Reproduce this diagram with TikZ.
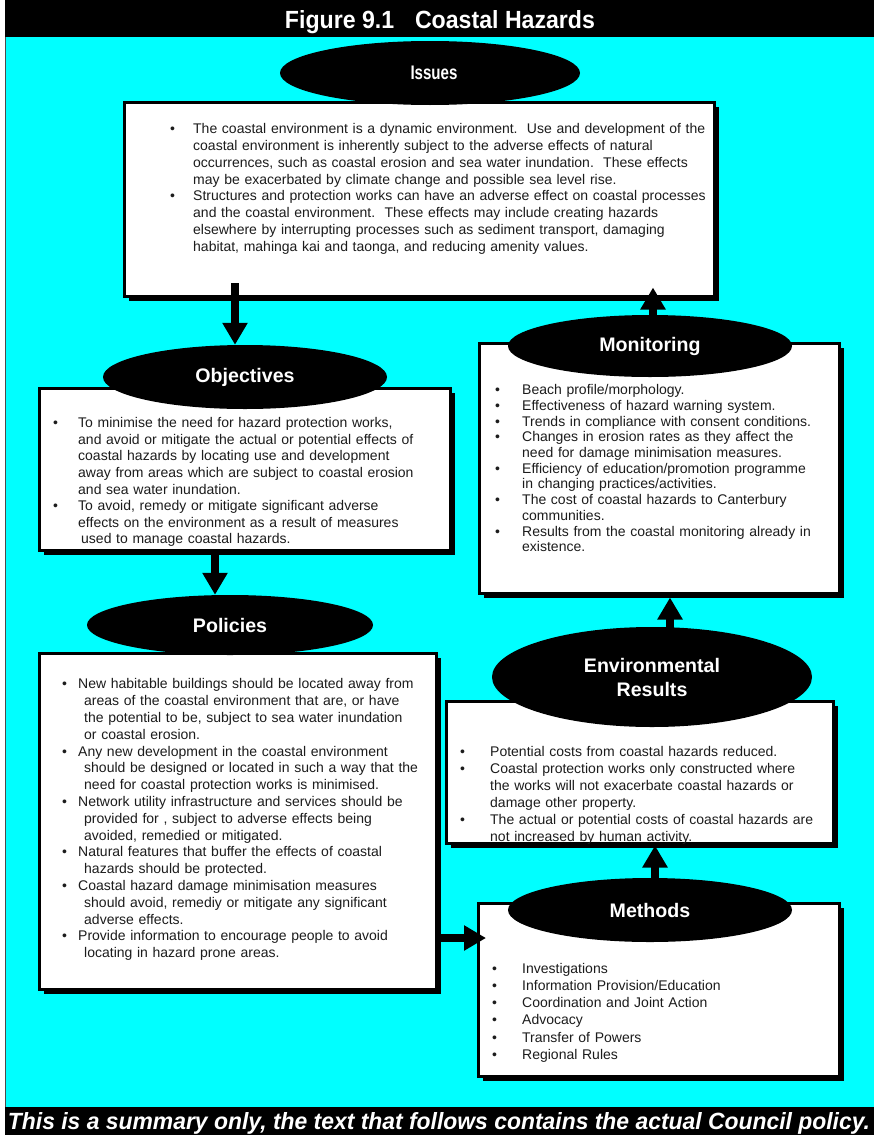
\documentclass[tikz,border=0pt]{standalone}
\usepackage{fontspec}
\setmainfont{Liberation Sans}
\usepackage{graphicx}
\usetikzlibrary{shapes.geometric,arrows.meta,shadows,calc}
\definecolor{bgcyan}{RGB}{0,255,255}
\definecolor{txtgray}{RGB}{28,28,28}
\newcommand\bl[3]{\par\hangindent=#2\hangafter=1\noindent\makebox[#1][l]{\textbullet}#3\par}
\begin{document}
\begin{tikzpicture}[x=1pt,y=-1pt,
  box/.style={draw=black,line width=2.5pt,fill=white,anchor=north west,inner sep=0pt,
    drop shadow={shadow xshift=5pt,shadow yshift=-5pt,fill=black,opacity=1}},
  hell/.style={ellipse,fill=black,text=white,inner sep=0pt,align=center,
    font=\fontsize{19.6}{24}\selectfont\bfseries},
  txt/.style={anchor=base west,inner sep=0pt,text=txtgray,align=left},
  barrow/.style={line width=8pt,-{Triangle[width=24pt,length=22pt]}},
]
\useasboundingbox (0,0) rectangle (874,1135);
% background
\fill[white] (0,0) rectangle (874,1135);
\fill[bgcyan] (5,37) rectangle (874,1107);
\draw[black!70,line width=1pt] (5.5,37) -- (5.5,1107);
\fill[black] (5,0) rectangle (874,37);
\fill[black] (5,1107) rectangle (874,1135);
\node[anchor=base,text=white,inner sep=0pt] (title) at (440,28)
  {\resizebox{310pt}{18pt}{\bfseries Figure 9.1\hspace{0.9em}Coastal Hazards}};
\node[anchor=base,text=white,inner sep=0pt] (footer) at (439,1129)
  {\resizebox{862pt}{17pt}{\bfseries\itshape This is a summary only, the text that follows contains the actual Council policy.}};

% boxes
\node[box,minimum width=590pt,minimum height=194pt] (issuesbox) at (123,101) {};
\node[box,minimum width=411pt,minimum height=162pt] (objbox) at (38,387) {};
\node[box,minimum width=397pt,minimum height=336pt] (polbox) at (38,652) {};
\node[box,minimum width=360pt,minimum height=250pt] (monbox) at (478,342) {};
\node[box,minimum width=387pt,minimum height=142pt] (envbox) at (445,700) {};
\node[box,minimum width=361pt,minimum height=173pt] (methbox) at (477,902) {};

% texts
\node[txt,text width=600pt,font=\fontsize{14}{16.75}\selectfont] (issuestxt) at (170,117) {%
\bl{23pt}{23pt}{The coastal environment is a dynamic environment.\ \ Use and development of the\newline
coastal environment is inherently subject to the adverse effects of natural\newline
occurrences, such as coastal erosion and sea water inundation.\ \ These effects\newline
may be exacerbated by climate change and possible sea level rise.}
\bl{23pt}{23pt}{Structures and protection works can have an adverse effect on coastal processes\newline
and the coastal environment.\ \ These effects may include creating hazards\newline
elsewhere by interrupting processes such as sediment transport, damaging\newline
habitat, mahinga kai and taonga, and reducing amenity values.}};

\node[txt,text width=440pt,font=\fontsize{14}{16.6}\selectfont] (objtxt) at (53,411) {%
\bl{25pt}{25pt}{To minimise the need for hazard protection works,\newline
and avoid or mitigate the actual or potential effects of\newline
coastal hazards by locating use and development\newline
away from areas which are subject to coastal erosion\newline
and sea water inundation.}
\bl{25pt}{25pt}{To avoid, remedy or mitigate significant adverse\newline
effects on the environment as a result of measures\newline
\hspace*{3pt}used to manage coastal hazards.}};

\node[txt,text width=440pt,font=\fontsize{14}{16.8}\selectfont] (poltxt) at (62,672) {%
\bl{16pt}{22pt}{New habitable buildings should be located away from\newline
areas of the coastal environment that are, or have\newline
the potential to be, subject to sea water inundation\newline
or coastal erosion.}
\bl{16pt}{22pt}{Any new development in the coastal environment\newline
should be designed or located in such a way that the\newline
need for coastal protection works is minimised.}
\bl{16pt}{22pt}{Network utility infrastructure and services should be\newline
provided for , subject to adverse effects being\newline
avoided, remedied or mitigated.}
\bl{16pt}{22pt}{Natural features that buffer the effects of coastal\newline
hazards should be protected.}
\bl{16pt}{22pt}{Coastal hazard damage minimisation measures\newline
should avoid, remediy or mitigate any significant\newline
adverse effects.}
\bl{16pt}{22pt}{Provide information to encourage people to avoid\newline
locating in hazard prone areas.}};

\node[txt,text width=380pt,font=\fontsize{14}{15.7}\selectfont] (montxt) at (495,379) {%
\bl{27pt}{27pt}{Beach profile/morphology.}
\bl{27pt}{27pt}{Effectiveness of hazard warning system.}
\bl{27pt}{27pt}{Trends in compliance with consent conditions.}
\bl{27pt}{27pt}{Changes in erosion rates as they affect the\newline
need for damage minimisation measures.}
\bl{27pt}{27pt}{Efficiency of education/promotion programme\newline
in changing practices/activities.}
\bl{27pt}{27pt}{The cost of coastal hazards to Canterbury\newline
communities.}
\bl{27pt}{27pt}{Results from the coastal monitoring already in\newline
existence.}};

\node[txt,text width=420pt,font=\fontsize{14}{17}\selectfont] (envtxt) at (460,739) {%
\bl{30pt}{30pt}{Potential costs from coastal hazards reduced.}
\bl{30pt}{30pt}{Coastal protection works only constructed where\newline
the works will not exacerbate coastal hazards or\newline
damage other property.}
\bl{30pt}{30pt}{The actual or potential costs of coastal hazards are\newline
not increased by human activity.}};

\node[txt,text width=380pt,font=\fontsize{14}{17.2}\selectfont] (methtxt) at (492,956) {%
\bl{30pt}{30pt}{Investigations}
\bl{30pt}{30pt}{Information Provision/Education}
\bl{30pt}{30pt}{Coordination and Joint Action}
\bl{30pt}{30pt}{Advocacy}
\bl{30pt}{30pt}{Transfer of Powers}
\bl{30pt}{30pt}{Regional Rules}};

% arrow start points
\coordinate (a1) at (235,283);
\coordinate (a2) at (215,549);
\coordinate (a3) at (440,938);
\coordinate (a4) at (655,885);
\coordinate (a5) at (670,632);
\coordinate (a6) at (653,320);

% ellipses (headings)
\node[hell,minimum width=300pt,minimum height=64pt] (issues) at (430,73) {};
\node[anchor=base,text=white,inner sep=0pt] (issueslbl) at (434,79)
  {\resizebox{47pt}{13.5pt}{\bfseries Issues}};
\node[hell,minimum width=284pt,minimum height=64pt] (objectives) at (245,377) {Objectives};
\node[hell,minimum width=286pt,minimum height=60pt] (policies) at (230,625) {Policies};
\node[hell,minimum width=284pt,minimum height=62pt] (monitoring) at (650,346) {Monitoring};
\node[hell,minimum width=320pt,minimum height=100pt] (envres) at (652,677) {Environmental\\Results};
\node[hell,minimum width=284pt,minimum height=64pt] (methods) at (650,910) {Methods};

% connectors
\draw[barrow] (a1) -- (a1 |- objectives.north);
\draw[barrow] (a2) -- (a2 |- policies.north);
\draw[barrow] (a3) -- ($(a3 -| methbox.west)+(9,0)$);
\draw[barrow] (a4) -- ($(a4 |- envbox.south)+(0,1)$);
\draw[barrow] (a5) -- ($(a5 |- monbox.south)+(0,3)$);
\draw[barrow] (a6) -- ($(a6 |- issuesbox.south)+(0,-10)$);
\end{tikzpicture}
\end{document}
